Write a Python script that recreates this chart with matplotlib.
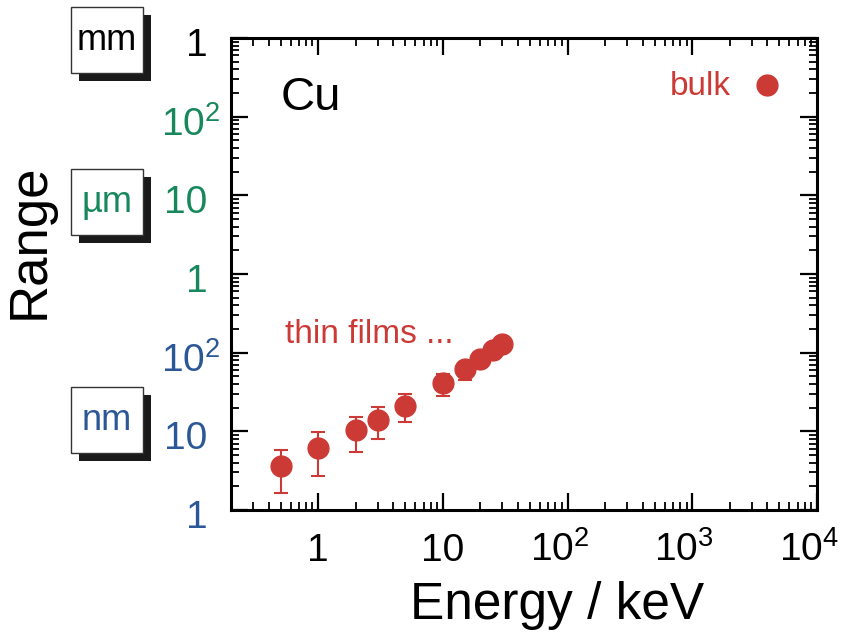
import matplotlib
matplotlib.use("Agg")
import matplotlib.pyplot as plt
from matplotlib.patches import Rectangle
from matplotlib.ticker import FixedLocator, LogLocator, NullFormatter
from matplotlib.transforms import ScaledTranslation

plt.rcParams['font.family'] = ['Liberation Sans', 'DejaVu Sans']
plt.rcParams['mathtext.fontset'] = 'custom'
plt.rcParams['mathtext.rm'] = 'Liberation Sans'
plt.rcParams['mathtext.it'] = 'Liberation Sans:italic'
plt.rcParams['mathtext.bf'] = 'Liberation Sans:bold'

# Cu thin film ranges (energy in keV, range in nm)
energy = [0.5, 1, 2, 3, 5, 10, 15, 20, 25, 30]
rng = [3.6, 6.2, 10.3, 14.0, 21.0, 41.0, 62.0, 82.0, 107.0, 130.0]
rng_low = [1.65, 2.7, 5.4, 8.1, 13.2, 28.0, 45.0, 82.0, 107.0, 130.0]
rng_high = [5.8, 9.7, 15.3, 20.5, 29.8, 54.0, 75.0, 82.0, 107.0, 130.0]

# bulk value
bulk_energy = [4000]
bulk_range = [2.5e5]

xticks = [1, 10, 100, 1000, 10000]
xlabels = ['1', '10', '$10^2$', '$10^3$', '$10^4$']
yticks = [1, 10, 100, 1e3, 1e4, 1e5, 1e6]
ylabels = ['1', '10', '$10^2$', '1', '10', '$10^2$', '1']

red = '#cc3a36'
green = '#17875c'
blue = '#2b5797'
ycolors = [blue, blue, blue, green, green, green, 'black']

W, H = 842, 632
fig = plt.figure(figsize=(W / 100, H / 100), dpi=100)
ax = fig.add_axes([231 / W, 1 - 510 / H, (817 - 231) / W, (510 - 38) / H])
ax.set_xscale('log')
ax.set_yscale('log')
ax.set_xlim(0.2, 1e4)
ax.set_ylim(1, 1e6)

yerr = [[r - lo for r, lo in zip(rng, rng_low)],
        [hi - r for r, hi in zip(rng, rng_high)]]
ax.errorbar(energy, rng, yerr=yerr, fmt='none', ecolor=red, elinewidth=1.5,
            capsize=5, capthick=1.5, zorder=2)
ax.plot(energy, rng, 'o', color=red, markersize=15, zorder=3)
ax.plot(bulk_energy, bulk_range, 'o', color=red, markersize=15, zorder=3)

fig.text(311 / W, 1 - 98 / H, 'Cu', fontsize=34, ha='center', va='center')
fig.text(369 / W, 1 - 343 / H, 'thin films ...', color=red, fontsize=24,
         ha='center', va='baseline')
fig.text(700 / W, 1 - 95 / H, 'bulk', color=red, fontsize=24,
         ha='center', va='baseline')

# axes styling
for s in ax.spines.values():
    s.set_linewidth(2.2)
ax.xaxis.set_major_locator(FixedLocator(xticks))
ax.yaxis.set_major_locator(FixedLocator(yticks))
ax.xaxis.set_minor_locator(LogLocator(base=10, subs=range(2, 10), numticks=20))
ax.yaxis.set_minor_locator(LogLocator(base=10, subs=range(2, 10), numticks=20))
ax.xaxis.set_minor_formatter(NullFormatter())
ax.yaxis.set_minor_formatter(NullFormatter())
ax.tick_params(which='both', direction='in', top=True, right=True)
ax.tick_params(which='major', length=12, width=1.6)
ax.tick_params(which='minor', length=6, width=1.3)
ax.tick_params(axis='x', which='major', pad=37, labelsize=28)
ax.tick_params(axis='y', which='major', pad=17, labelsize=28)
ax.set_xticklabels(xlabels, va='baseline')
ax.set_yticklabels(ylabels)
for lbl, c in zip(ax.get_yticklabels(), ycolors):
    lbl.set_color(c)

# powers of ten hang their exponent past the tick
for tick, lab in zip(ax.xaxis.get_major_ticks(), xlabels):
    if '^' in lab:
        tick.label1.set_transform(tick.label1.get_transform()
                                  + ScaledTranslation(-0.08, 0, fig.dpi_scale_trans))
for tick, lab in zip(ax.yaxis.get_major_ticks(), ylabels):
    dx = 0.13 if '^' in lab else 0
    tick.label1.set_transform(tick.label1.get_transform()
                              + ScaledTranslation(dx, -0.04, fig.dpi_scale_trans))

fig.text(557 / W, 1 - 619 / H, 'Energy / keV', fontsize=37,
         ha='center', va='baseline')
fig.text(30 / W, 1 - 241 / H, 'Range', fontsize=38, rotation=90,
         ha='center', va='center')

# unit boxes with drop shadows
units = ['mm', 'µm', 'nm']
unit_colors = ['black', green, blue]
box_tops = [7, 169, 387]
for u, c, top in zip(units, unit_colors, box_tops):
    x0, w, h = 71, 72, 66
    y0 = H - top - h
    fig.add_artist(Rectangle(((x0 + 8) / W, (y0 - 8) / H), w / W, h / H,
                             transform=fig.transFigure, facecolor='#1a1a1a',
                             edgecolor='none'))
    fig.add_artist(Rectangle((x0 / W, y0 / H), w / W, h / H,
                             transform=fig.transFigure, facecolor='white',
                             edgecolor='#333333', linewidth=1.0))
    fig.text((x0 + w / 2) / W, (y0 + h / 2) / H, u, color=c, fontsize=26,
             ha='center', va='center')

fig.savefig('out.png', dpi=100)
